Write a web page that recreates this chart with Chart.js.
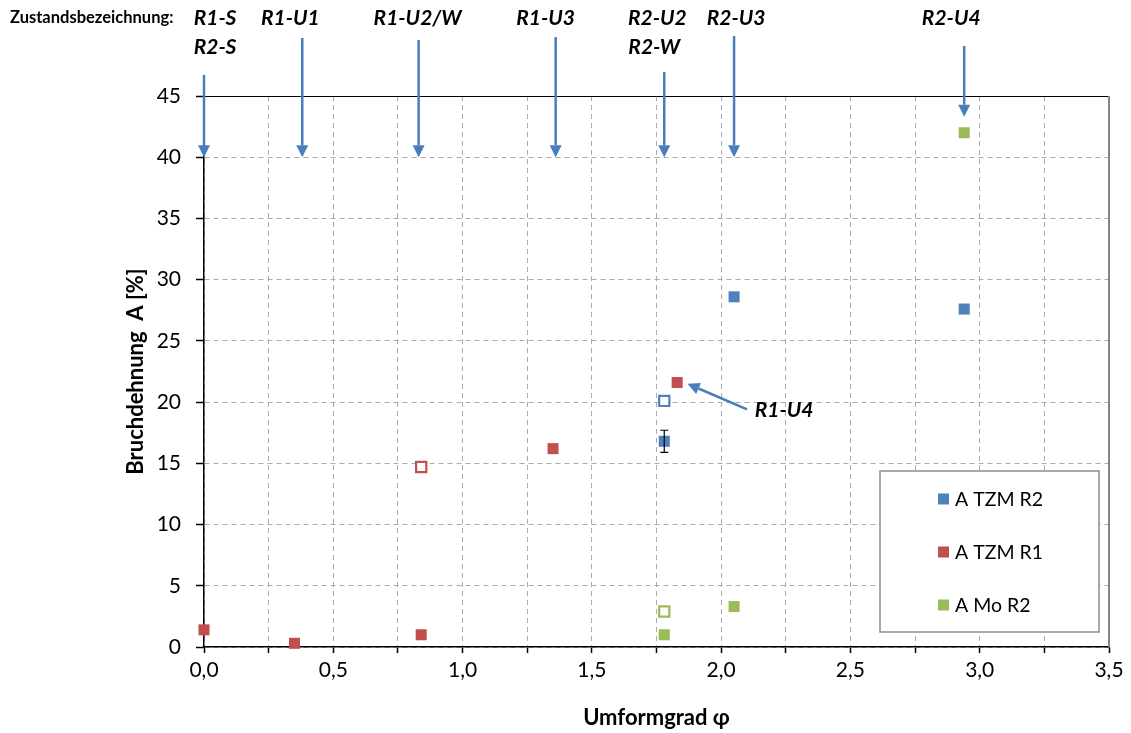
<!DOCTYPE html>
<html>
<head>
<meta charset="utf-8">
<script src="https://cdn.jsdelivr.net/npm/chart.js@4/dist/chart.umd.min.js"></script>
<style>
  html, body { margin: 0; padding: 0; background: #fff; }
  #wrap { width: 1131px; height: 733px; }
</style>
</head>
<body>
<div id="wrap"><canvas id="chart" width="1131" height="733"></canvas></div>
<script>
// values
const tzmR2X = [1.78, 2.05, 2.94]
const tzmR2Y = [16.8, 28.6, 27.6]
const tzmR2OpenX = [1.78]
const tzmR2OpenY = [20.1]

const tzmR1X = [0.0, 0.35, 0.84, 1.35, 1.83]
const tzmR1Y = [1.4, 0.3, 1.0, 16.2, 21.6]
const tzmR1OpenX = [0.84]
const tzmR1OpenY = [14.7]

const moR2X = [1.78, 2.05, 2.94]
const moR2Y = [1.0, 3.3, 42.0]
const moR2OpenX = [1.78]
const moR2OpenY = [2.9]

// error bar on the first TZM R2 point
const errX = [1.78]
const errY = [16.8]
const errSize = [0.9]

const seriesNames = ['A TZM R2', 'A TZM R1', 'A Mo R2']
const seriesColors = ['#4F81BD', '#C0504D', '#9BBB59']

// state labels with their arrows
const stateLabels = [['R1-S', 'R2-S'], ['R1-U1'], ['R1-U2/W'], ['R1-U3'], ['R2-U2', 'R2-W'], ['R2-U3'], ['R2-U4']]
const stateX = [0.0, 0.38, 0.83, 1.36, 1.78, 2.05, 2.94]
const stateArrowEnd = [40, 40, 40, 40, 40, 40, 43.3]

const xTicks = ['0,0', '0,5', '1,0', '1,5', '2,0', '2,5', '3,0', '3,5']

const pts = (xs, ys) => xs.map((x, i) => ({ x: x, y: ys[i] }))

const filled = (idx, xs, ys) => ({
  label: seriesNames[idx],
  data: pts(xs, ys),
  clip: false,
  pointStyle: 'rect',
  pointRadius: 7.8,
  pointHoverRadius: 7.8,
  backgroundColor: seriesColors[idx],
  borderColor: seriesColors[idx],
  borderWidth: 0
})

const hollow = (idx, xs, ys) => ({
  label: seriesNames[idx] + ' (open)',
  data: pts(xs, ys),
  clip: false,
  pointStyle: 'rect',
  pointRadius: 7.2,
  pointHoverRadius: 7.2,
  backgroundColor: '#fff',
  borderColor: seriesColors[idx],
  borderWidth: 2.2
})

const arrow = (ctx, x1, y1, x2, y2, color) => {
  const ang = Math.atan2(y2 - y1, x2 - x1)
  const head = 12, half = 6
  const bx = x2 - head * Math.cos(ang), by = y2 - head * Math.sin(ang)
  ctx.save()
  ctx.strokeStyle = color
  ctx.fillStyle = color
  ctx.lineWidth = 2.5
  ctx.beginPath()
  ctx.moveTo(x1, y1)
  ctx.lineTo(bx, by)
  ctx.stroke()
  ctx.beginPath()
  ctx.moveTo(x2, y2)
  ctx.lineTo(bx + half * Math.sin(ang), by - half * Math.cos(ang))
  ctx.lineTo(bx - half * Math.sin(ang), by + half * Math.cos(ang))
  ctx.closePath()
  ctx.fill()
  ctx.restore()
}

const extras = {
  id: 'extras',
  afterDatasetsDraw(chart) {
    const ctx = chart.ctx
    const xs = chart.scales.x, ys = chart.scales.y
    const area = chart.chartArea

    // plot border top / right
    ctx.save()
    ctx.strokeStyle = '#000'
    ctx.lineWidth = 1
    ctx.beginPath()
    ctx.moveTo(area.left, area.top + 0.5)
    ctx.lineTo(area.right, area.top + 0.5)
    ctx.stroke()
    ctx.strokeStyle = '#868686'
    ctx.lineWidth = 2
    ctx.beginPath()
    ctx.moveTo(area.right, area.top)
    ctx.lineTo(area.right, area.bottom)
    ctx.stroke()
    ctx.restore()

    // error bar
    ctx.save()
    ctx.strokeStyle = '#000'
    ctx.lineWidth = 1.2
    errX.forEach((x, i) => {
      const px = xs.getPixelForValue(x)
      const top = ys.getPixelForValue(errY[i] + errSize[i])
      const bot = ys.getPixelForValue(errY[i] - errSize[i])
      ctx.beginPath()
      ctx.moveTo(px, top); ctx.lineTo(px, bot)
      ctx.moveTo(px - 4, top); ctx.lineTo(px + 4, top)
      ctx.moveTo(px - 4, bot); ctx.lineTo(px + 4, bot)
      ctx.stroke()
    })
    ctx.restore()

    // state arrows and labels
    const arrowStart = [75, 38, 40, 37, 72, 36, 46]
    const labelShift = [11, -12, -1, -10, -7, 2, -13]
    ctx.save()
    ctx.font = 'italic bold 21px Lato'
    ctx.fillStyle = '#000'
    ctx.textAlign = 'center'
    ctx.textBaseline = 'middle'
    stateX.forEach((x, i) => {
      const px = xs.getPixelForValue(x)
      arrow(ctx, px, arrowStart[i], px, ys.getPixelForValue(stateArrowEnd[i]), '#4A7EBB')
      stateLabels[i].forEach((t, j) => {
        ctx.fillText(t, px + labelShift[i] + (j > 0 && i === 4 ? -3 : 0), 18 + j * 29)
      })
    })
    ctx.textAlign = 'left'
    ctx.font = 'bold 16.5px Lato'
    ctx.fillText('Zustandsbezeichnung:', 10, 18)

    // R1-U4 pointer
    arrow(ctx, xs.getPixelForValue(2.1), ys.getPixelForValue(19.4),
      xs.getPixelForValue(1.87), ys.getPixelForValue(21.5), '#4A7EBB')
    ctx.font = 'italic bold 21px Lato'
    ctx.fillText('R1-U4', xs.getPixelForValue(2.13), ys.getPixelForValue(19.3))
    ctx.restore()

    // legend box
    const lx = area.right - 229, ly = area.bottom - 176, lw = 219, lh = 161
    ctx.save()
    ctx.fillStyle = '#fff'
    ctx.fillRect(lx, ly, lw, lh)
    ctx.strokeStyle = '#8c8c8c'
    ctx.lineWidth = 1.5
    ctx.strokeRect(lx, ly, lw, lh)
    ctx.font = '19.5px Lato'
    ctx.textBaseline = 'middle'
    seriesNames.forEach((name, i) => {
      const cy = ly + 28 + i * 53
      ctx.fillStyle = seriesColors[i]
      ctx.fillRect(lx + 58, cy - 5.5, 11, 11)
      ctx.fillStyle = '#000'
      ctx.fillText(name, lx + 75, cy + 1)
    })
    ctx.restore()
  }
}

new Chart(document.getElementById('chart'), {
  type: 'scatter',
  data: {
    datasets: [
      filled(0, tzmR2X, tzmR2Y),
      hollow(0, tzmR2OpenX, tzmR2OpenY),
      filled(1, tzmR1X, tzmR1Y),
      hollow(1, tzmR1OpenX, tzmR1OpenY),
      filled(2, moR2X, moR2Y),
      hollow(2, moR2OpenX, moR2OpenY)
    ]
  },
  options: {
    responsive: false,
    animation: false,
    events: [],
    layout: { padding: { top: 96, right: 22, left: 0, bottom: 0 } },
    plugins: {
      legend: { display: false },
      tooltip: { enabled: false }
    },
    scales: {
      x: {
        type: 'linear',
        min: 0,
        max: 3.5,
        afterFit: (s) => { s.height = 86 },
        border: { color: '#000', width: 1.5, dash: [5, 4] },
        grid: {
          color: '#aaaaaa',
          lineWidth: 1,
          tickLength: 6,
          tickColor: '#000',
          tickBorderDash: [],
          tickWidth: 1.5
        },
        ticks: {
          stepSize: 0.25,
          padding: 5,
          color: '#000',
          font: { family: 'Lato', size: 21 },
          maxRotation: 0,
          autoSkip: false,
          callback: (v) => {
            const q = Math.round(v * 4)
            return q % 2 === 0 ? xTicks[q / 2] : ''
          }
        },
        title: {
          display: true,
          text: 'Umformgrad φ',
          color: '#000',
          font: { family: 'Lato', size: 22, weight: 'bold' },
          padding: { top: 0, bottom: 2 }
        }
      },
      y: {
        type: 'linear',
        min: 0,
        max: 45,
        afterFit: (s) => { s.width = 204 },
        border: { color: '#000', width: 1.5, dash: [5, 4] },
        grid: {
          color: (c) => c.tick && c.tick.value === 45 ? 'rgba(0,0,0,0)' : '#aaaaaa',
          lineWidth: 1,
          tickLength: 8,
          tickColor: '#000',
          tickBorderDash: [],
          tickWidth: 1.5
        },
        ticks: {
          stepSize: 5,
          padding: 15,
          color: '#000',
          font: { family: 'Lato', size: 21 }
        },
        title: {
          display: true,
          text: 'Bruchdehnung  A [%]',
          color: '#000',
          font: { family: 'Lato', size: 22, weight: 'bold' },
          padding: { top: 123, bottom: 0 }
        }
      }
    }
  },
  plugins: [extras]
})
</script>
</body>
</html>
